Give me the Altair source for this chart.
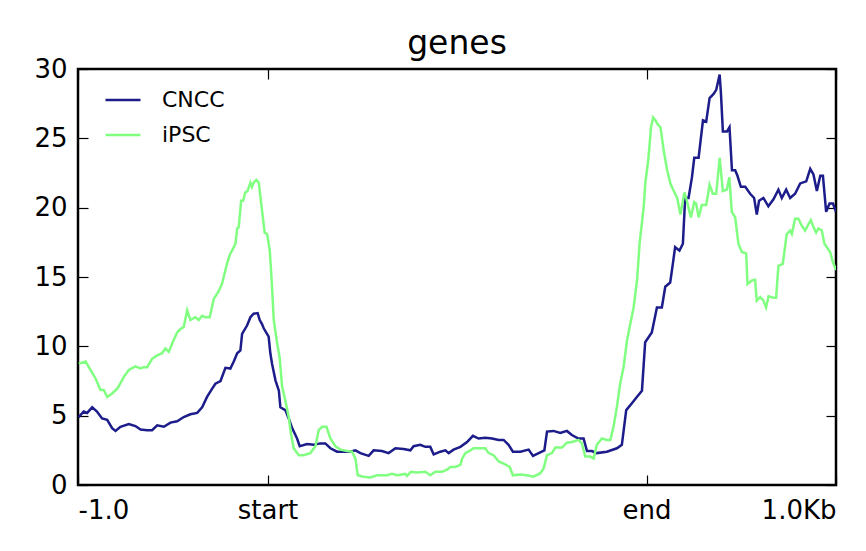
import altair as alt
import pandas as pd

# ---- data (bin index 0..400) ----
cncc_bins = [0.4, 3, 4.8, 7.5, 10, 12.7, 15.4, 18, 19.8, 22.4, 26.8, 30.3, 33, 36.5, 39.1, 41.8,
             45.3, 48.8, 52.3, 55.8, 59.3, 62.9, 65.5, 68.1, 70.8, 72.5, 75.2, 77.8, 80.4, 82.2,
             84, 85.7, 86.6, 89.2, 91, 92.7, 94.8, 95.9, 97.1, 98, 100.6, 101.5, 102.4, 104.2,
             106, 106.8, 109.4, 111.2, 113, 115.6, 117, 120.9, 124.4, 127.9, 130.5, 133.2, 136.7,
             143.7, 146.4, 149, 153.4, 156, 160.4, 163.9, 167.5, 171.8, 175.4, 177.1, 180.6,
             183.3, 185.9, 187.7, 191.2, 193.9, 195.6, 198.2, 201.8, 205.3, 208.4, 211.4, 214.9,
             218.5, 222, 224.6, 227.2, 229.5, 233.4, 237.8, 240.1, 243.1, 246.1, 247.5, 250.9,
             254.5, 258, 260.6, 264.1, 266.8, 268.6, 271.2, 273.8, 279.1, 284.4, 287, 289.3,
             292.3, 294.9, 297.6, 299.3, 302.8, 305.5, 308.1, 309.9, 312.5, 313.9, 315.1, 317.4,
             319.2, 320.4, 322.2, 324, 325.2, 327.5, 329.8, 331.5, 333.3, 335.4, 336.8, 338.6,
             339.3, 340.3, 342.5, 343.8, 345.1, 346.8, 348, 349.8, 352.1, 354.7, 356.8, 358.2,
             359.4, 361.7, 364.3, 367, 369.6, 371.4, 373.7, 375.8, 378.4, 381.1, 384.3, 386.4,
             388.1, 389.9, 391.7, 393.1, 394.8, 396.6, 398.4, 400]
cncc_vals = [4.9, 5.3, 5.2, 5.6, 5.3, 4.8, 4.7, 4.1, 3.9, 4.2, 4.4, 4.25, 4.0, 3.95, 3.95, 4.3,
             4.2, 4.5, 4.6, 4.9, 5.1, 5.2, 5.6, 6.35, 6.95, 7.3, 7.5, 8.45, 8.4, 8.9,
             9.5, 9.7, 10.9, 11.5, 12.1, 12.35, 12.4, 11.9, 11.6, 11.3, 10.7, 9.5, 8.75, 7.55,
             6.8, 5.6, 5.4, 4.8, 4.1, 3.35, 2.8, 2.95, 2.9, 3.0, 3.0, 2.65, 2.4,
             2.4, 2.5, 2.3, 2.1, 2.5, 2.45, 2.3, 2.65, 2.6, 2.5, 2.8, 2.9,
             2.75, 2.75, 2.2, 2.4, 2.5, 2.3, 2.55, 2.75, 3.1, 3.55, 3.35, 3.4,
             3.35, 3.25, 3.25, 2.9, 2.4, 2.4, 2.55, 2.1, 2.3, 2.5, 3.85, 3.9,
             3.75, 3.9, 3.6, 3.35, 3.35, 2.45, 2.45, 2.3, 2.4, 2.65, 2.9, 5.4,
             5.9, 6.35, 6.8, 10.3, 11.0, 12.8, 12.8, 14.3, 14.6, 15.95, 17.15, 16.9,
             17.4, 20.7, 20.7, 22.2, 23.6, 23.6, 26.3, 26.2, 27.9, 28.2, 28.5, 29.6,
             28.2, 25.5, 25.5, 25.8, 22.7, 22.7, 22.3, 21.5, 21.5, 21.0, 20.7, 19.5,
             20.5, 20.7, 20.1, 20.6, 21.3, 20.7, 21.3, 20.7, 21.0, 21.75, 21.9, 22.8,
             22.4, 21.2, 22.3, 22.3, 19.7, 20.3, 20.3, 19.7]

ipsc_bins = [0.4, 4, 6.6, 9.2, 11.9, 13.6, 15.4, 18, 20.7, 22.4, 24.2, 26.8, 30.3, 33, 34.7, 36.5,
             39.1, 41.8, 44.4, 46.1, 47.9, 49.7, 52.3, 54.1, 55.8, 57.6, 59.3, 62, 63.7, 65.5,
             67.2, 69.5, 71.6, 74.3, 76, 77.8, 78.7, 80.4, 81.3, 83.1, 84, 84.8, 86.1, 87.1,
             88.3, 89.5, 91, 91.8, 92.7, 94.1, 95.4, 97.1, 98.5, 99.8, 101.2, 102.4, 103.3,
             105.1, 106.4, 107.7, 109.4, 111.2, 112.4, 113.8, 116.5, 119.1, 122.6, 125.3, 127,
             128.8, 131.1, 133.2, 135.8, 138.5, 142, 144.6, 146.4, 147.6, 150.7, 154.3, 157.8,
             163.1, 165.7, 168.4, 172.7, 173.6, 175.7, 178.9, 183.3, 185.9, 188.5, 192.1, 194.7,
             196.5, 199.1, 201.8, 202.7, 204.4, 207, 208.8, 214.9, 216.7, 219.3, 222, 224.6,
             227.8, 229.5, 233.4, 236.9, 240.4, 244, 245.7, 247.5, 250.1, 251.9, 255.4, 258,
             260.7, 264.1, 265.9, 267.7, 270.3, 272.1, 273.8, 276.5, 279.1, 280.9, 282.6, 284.4,
             286.1, 287.9, 289.7, 291.4, 293.2, 295, 296.4, 298.5, 299.4, 300.9, 302.4, 303.5,
             304.7, 305.9, 307.4, 309.1, 310.9, 312.7, 314.4, 316.2, 317.9, 320, 321.3, 323.4,
             325.2, 326.2, 327.5, 329.2, 331.5, 333.3, 335, 336.8, 338.6, 340.3, 342.4, 343.7,
             345, 346.8, 348.5, 350.3, 352.6, 353.3, 355.6, 357.3, 358.2, 360, 361.7, 363.1,
             364.4, 367, 368.4, 369.6, 371.9, 374, 375.8, 376.7, 378.4, 380.2, 381.9, 383.7,
             385.4, 386.7, 388.1, 389.5, 390.7, 392.5, 393.9, 395.2, 396.9, 398.3, 400]
ipsc_vals = [8.75, 8.9, 8.3, 7.7, 6.85, 6.85, 6.35, 6.6, 6.95, 7.35, 7.8, 8.3, 8.55, 8.4, 8.5, 8.5,
             9.1, 9.35, 9.5, 9.85, 9.6, 10.2, 11.0, 11.25, 11.4, 12.6, 11.9, 12.1, 11.9, 12.2,
             12.1, 12.1, 13.4, 14.0, 14.5, 15.5, 16.0, 16.7, 16.9, 17.4, 18.5, 18.6, 20.5, 20.5,
             21.1, 21.2, 21.8, 21.5, 21.8, 22.0, 21.8, 19.8, 18.2, 18.1, 16.9, 14.3, 11.9,
             10.2, 9.2, 7.1, 6.1, 4.9, 3.7, 2.65, 2.15, 2.15, 2.3, 2.8, 3.95,
             4.2, 4.2, 3.35, 2.8, 2.55, 2.45, 2.4, 1.9, 0.7, 0.6, 0.55, 0.7,
             0.7, 0.8, 0.7, 0.8, 0.65, 0.95, 0.9, 0.95, 0.7, 0.95, 0.95, 1.1,
             1.3, 1.3, 1.45, 1.9, 2.3, 2.5, 2.65, 2.65, 2.3, 2.15, 1.7, 1.55,
             1.3, 0.7, 0.75, 0.7, 0.6, 0.85, 1.2, 2.15, 2.3, 2.7, 2.7, 3.05,
             3.1, 3.25, 3.0, 2.05, 2.05, 1.9, 2.9, 3.35, 3.25, 3.25, 4.2, 5.65,
             7.3, 8.5, 10.4, 11.6, 12.8, 14.75, 17.5, 20.0, 21.8, 23.4, 25.8, 26.5,
             26.3, 26.0, 25.8, 24.1, 22.7, 21.7, 21.2, 20.7, 19.5, 21.1, 20.5, 19.3,
             20.4, 20.3, 19.3, 20.2, 20.2, 21.65, 21.0, 21.0, 23.6, 21.2, 21.3, 22.2,
             19.7, 19.3, 17.4, 16.8, 16.7, 14.5, 14.75, 14.8, 13.3, 13.55, 13.3, 12.8,
             13.6, 13.5, 13.5, 15.8, 15.95, 18.1, 18.35, 18.1, 19.2, 19.2, 18.7, 18.35,
             18.8, 19.1, 18.6, 18.2, 18.5, 18.35, 17.4, 17.15, 16.8, 16.1, 15.5]

samples = ["CNCC", "iPSC"]
colors = ["#1c1c8a", "#80ff80"]
x_tick_values = [0, 100, 300, 400]
x_tick_labels = ["-1.0", "start", "end", "1.0Kb"]
y_tick_values = [0, 5, 10, 15, 20, 25, 30]

df = pd.concat([
    pd.DataFrame({"bin": cncc_bins, "value": cncc_vals, "sample": samples[0]}),
    pd.DataFrame({"bin": ipsc_bins, "value": ipsc_vals, "sample": samples[1]}),
], ignore_index=True)

label_expr = " : ".join(
    f"datum.value == {v} ? '{t}'" for v, t in zip(x_tick_values[:-1], x_tick_labels[:-1])
) + f" : '{x_tick_labels[-1]}'"

FONT = "DejaVu Sans"
xscale = alt.Scale(domain=[0, 400], nice=False, zero=False)
yscale = alt.Scale(domain=[0, 30], nice=False)

common_axis = dict(offset=-10, tickSize=10, tickColor="black", tickWidth=1.2, domain=False,
                   grid=False, labelFont=FONT, labelFontSize=26, labelColor="black",
                   labelOverlap=False, title=None)

lines = alt.Chart(df).mark_line(strokeWidth=2.5, clip=True).encode(
    x=alt.X("bin:Q", scale=xscale,
            axis=alt.Axis(orient="bottom", values=x_tick_values, labelExpr=label_expr,
                          labelPadding=12, labelFlush=True, **common_axis)),
    y=alt.Y("value:Q", scale=yscale,
            axis=alt.Axis(orient="left", values=y_tick_values, labelPadding=11, **common_axis)),
    color=alt.Color("sample:N", title=None,
                    scale=alt.Scale(domain=samples, range=colors),
                    legend=alt.Legend(orient="none", legendX=26, legendY=12, padding=0,
                                      symbolType="stroke", symbolSize=1225,
                                      symbolStrokeWidth=2.5, labelOffset=20, rowPadding=5,
                                      labelFont=FONT, labelFontSize=22, labelColor="black")),
    order="bin:Q",
)

mirror = alt.Chart(df).mark_line(opacity=0).encode(
    x=alt.X("bin:Q", scale=xscale,
            axis=alt.Axis(orient="top", values=x_tick_values, labels=False, **common_axis)),
    y=alt.Y("value:Q", scale=yscale,
            axis=alt.Axis(orient="right", values=y_tick_values, labels=False, **common_axis)),
    detail="sample:N",
)

chart = alt.layer(lines, mirror).resolve_axis(x="independent", y="independent").properties(
    width=758, height=416,
    padding={"left": 70, "top": 61, "right": 20, "bottom": 56},
    autosize=alt.AutoSizeParams(type="none"),
    title=alt.TitleParams("genes", font=FONT, fontSize=33, fontWeight="normal", color="black",
                          anchor="middle", baseline="alphabetic", offset=12, dy=43),
    background="white",
).configure_view(stroke="black", strokeWidth=2.5)

chart.save("out.html", embed_options={"renderer": "svg", "actions": False})
